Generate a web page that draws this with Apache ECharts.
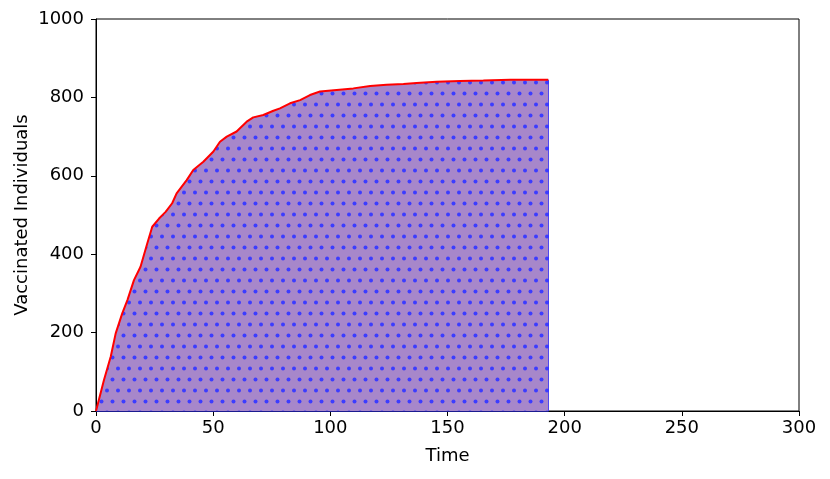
<!DOCTYPE html>
<html>
<head>
<meta charset="utf-8">
<script src="https://cdn.jsdelivr.net/npm/echarts@6/dist/echarts.min.js"></script>
<style>html,body{margin:0;padding:0;background:#fff}#c{width:830px;height:479px}</style>
</head>
<body>
<div id="c"></div>
<script>
var times = [0, 0.6, 3.4, 6.3, 8.4, 11.2, 13.4, 16.2, 19, 21.9, 24, 26.9, 29.7, 32.5, 34.4, 38.7, 41.5, 45.8, 50.1, 52.9, 55.8, 60, 64.3, 67.1, 71.4, 75.7, 78.5, 82.8, 87.1, 91.3, 95.6, 102.7, 109.8, 117, 124, 131.2, 136.8, 145.3, 155.3, 165.3, 176.7, 193];
var vaccinated = [0, 3, 79, 139, 198, 249, 283, 334, 368, 428, 470, 491, 508, 530, 555, 589, 615, 636, 662, 687, 700, 713, 738, 749, 755, 766, 772, 785, 793, 806, 815, 819, 823, 829, 832, 834, 837, 840, 842, 843, 845, 845];
var xTicks = [0, 50, 100, 150, 200, 250, 300];
var yTicks = [0, 200, 400, 600, 800, 1000];

var pts = times.map(function (t, i) { return [t, vaccinated[i]]; });
var lastT = times[times.length - 1], lastV = vaccinated[vaccinated.length - 1];

// dotted hatch pattern
var tile = document.createElement('canvas');
tile.width = 11; tile.height = 22;
var g = tile.getContext('2d');
g.fillStyle = '#a787ca';
g.fillRect(0, 0, 11, 22);
g.fillStyle = '#3c3cff';
[[2.5, 5.5], [8, 16.5]].forEach(function (p) {
  g.beginPath(); g.arc(p[0], p[1], 2, 0, Math.PI * 2); g.fill();
});

var font = 'DejaVu Sans';
var fs = 18;
var chart = echarts.init(document.getElementById('c'), null, { renderer: 'canvas' });
chart.setOption({
  animation: false,
  grid: { left: 96, right: 31, top: 19, bottom: 68, show: true, borderColor: '#000', borderWidth: 1, backgroundColor: 'transparent' },
  xAxis: {
    type: 'value', min: xTicks[0], max: xTicks[xTicks.length - 1], interval: 50,
    name: 'Time', nameLocation: 'middle', nameGap: 36, nameMoveOverlap: false,
    nameTextStyle: { fontFamily: font, fontSize: fs, color: '#000' },
    axisLine: { show: true, lineStyle: { color: '#000', width: 1 } },
    axisTick: { show: true, length: 5, lineStyle: { color: '#000' } },
    axisLabel: { fontFamily: font, fontSize: fs, color: '#000', margin: 8, formatter: function (v) { return String(v); } },
    splitLine: { show: false }
  },
  yAxis: {
    type: 'value', min: yTicks[0], max: yTicks[yTicks.length - 1], interval: 200,
    name: 'Vaccinated Individuals', nameLocation: 'middle', nameGap: 65, nameMoveOverlap: false,
    nameTextStyle: { fontFamily: font, fontSize: fs, color: '#000' },
    axisLine: { show: true, lineStyle: { color: '#000', width: 1 } },
    axisTick: { show: true, length: 5, lineStyle: { color: '#000' } },
    axisLabel: { fontFamily: font, fontSize: fs, color: '#000', margin: 12, formatter: function (v) { return String(v); } },
    splitLine: { show: false }
  },
  series: [
    {
      type: 'line', data: pts, showSymbol: false, symbol: 'none', z: 3, smooth: false,
      lineStyle: { color: '#ff0000', width: 2 },
      areaStyle: { color: { image: tile, repeat: 'repeat' }, opacity: 1 }
    },
    {
      type: 'line', data: [[lastT, lastV], [lastT, 0], [0, 0]], showSymbol: false, symbol: 'none', z: 2,
      lineStyle: { color: '#3030ff', width: 1.5 }
    }
  ]
});
</script>
</body>
</html>
